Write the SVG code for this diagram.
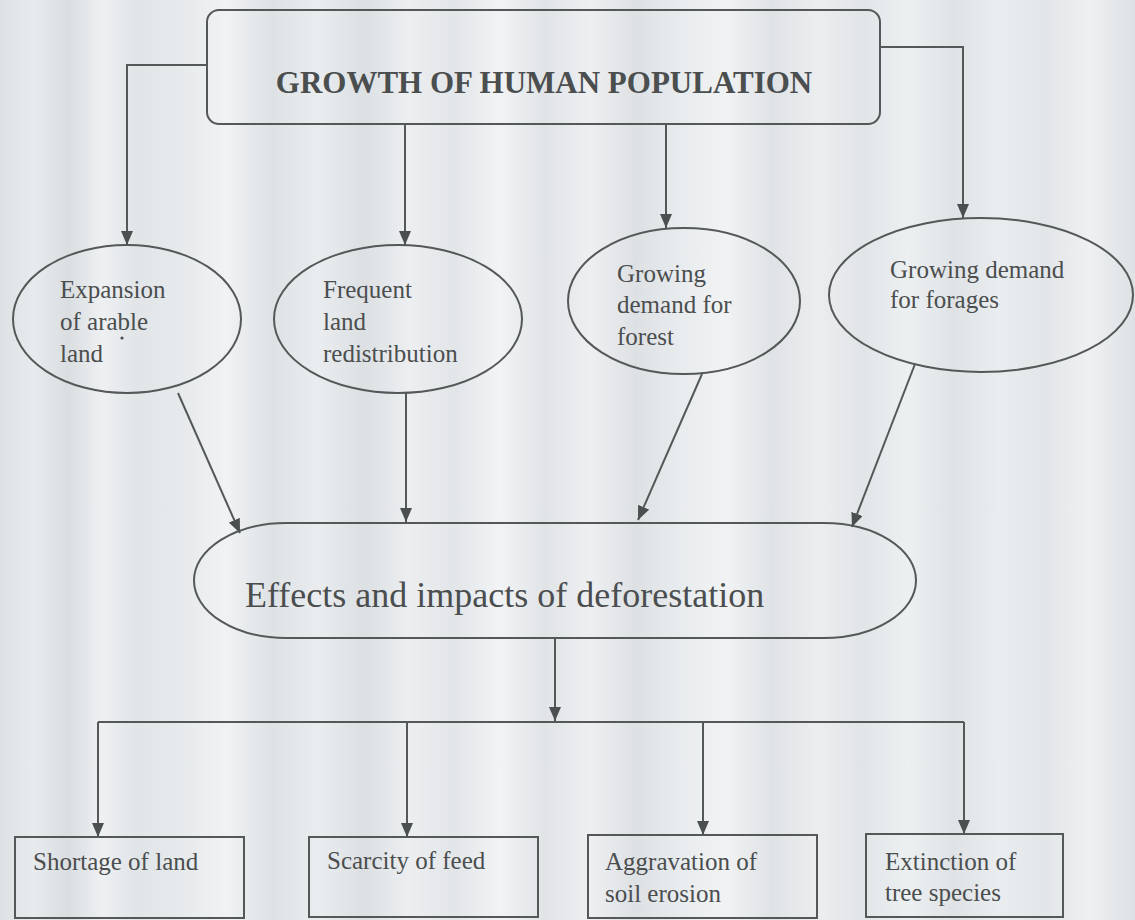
<svg xmlns="http://www.w3.org/2000/svg" width="1135" height="920" viewBox="0 0 1135 920">
  <defs>
    <!-- streaky paper background -->
    <linearGradient id="paper" gradientUnits="userSpaceOnUse" x1="0" y1="0" x2="1135" y2="0">
      <stop offset="0" stop-color="#dde1e4"/>
      <stop offset="0.03" stop-color="#e8ebed"/>
      <stop offset="0.06" stop-color="#dadee1"/>
      <stop offset="0.09" stop-color="#eef0f2"/>
      <stop offset="0.12" stop-color="#e1e5e8"/>
      <stop offset="0.16" stop-color="#e7eaec"/>
      <stop offset="0.2" stop-color="#f0f2f3"/>
      <stop offset="0.24" stop-color="#dee2e5"/>
      <stop offset="0.28" stop-color="#eaedef"/>
      <stop offset="0.32" stop-color="#dce0e3"/>
      <stop offset="0.36" stop-color="#eceef0"/>
      <stop offset="0.4" stop-color="#e3e6e9"/>
      <stop offset="0.44" stop-color="#f1f3f4"/>
      <stop offset="0.48" stop-color="#e1e4e7"/>
      <stop offset="0.52" stop-color="#edeff1"/>
      <stop offset="0.56" stop-color="#dee1e4"/>
      <stop offset="0.6" stop-color="#e9ecee"/>
      <stop offset="0.64" stop-color="#f0f2f3"/>
      <stop offset="0.68" stop-color="#e0e3e6"/>
      <stop offset="0.72" stop-color="#ebedef"/>
      <stop offset="0.76" stop-color="#e2e5e8"/>
      <stop offset="0.8" stop-color="#edf0f1"/>
      <stop offset="0.84" stop-color="#dfe3e6"/>
      <stop offset="0.88" stop-color="#eaedef"/>
      <stop offset="0.92" stop-color="#e3e6e9"/>
      <stop offset="0.96" stop-color="#eef0f1"/>
      <stop offset="1" stop-color="#dee2e5"/>
    </linearGradient>
    <marker id="arrow" viewBox="0 0 14 12" refX="14" refY="6" markerWidth="14" markerHeight="12" markerUnits="userSpaceOnUse" orient="auto">
      <path d="M0,0 L14,6 L0,12 z" fill="#4a4f50"/>
    </marker>
  </defs>
  <style>
    .shape { fill: none; stroke: #535858; stroke-width: 2; }
    .link { fill: none; stroke: #535858; stroke-width: 2; }
    .lbl { font-family: "Liberation Serif", "Times New Roman", serif; fill: #4b4e4f; font-size: 25px; }
    .title { font-family: "Liberation Serif", "Times New Roman", serif; fill: #4b4e4f; font-size: 31px; font-weight: bold; }
    .big { font-family: "Liberation Serif", "Times New Roman", serif; fill: #4b4e4f; font-size: 36px; }
  </style>

  <rect x="0" y="0" width="1135" height="920" fill="url(#paper)"/>

  <!-- root -->
  <g id="growth">
    <rect class="shape" x="207" y="10" width="673" height="114" rx="12" ry="12"/>
    <text class="title" x="544" y="93" text-anchor="middle">GROWTH OF HUMAN POPULATION</text>
  </g>

  <!-- drivers -->
  <g id="expansion">
    <ellipse class="shape" cx="127" cy="319" rx="114" ry="74"/>
    <text class="lbl" x="60" y="298">Expansion</text>
    <text class="lbl" x="60" y="330">of arable</text>
    <text class="lbl" x="60" y="362">land</text>
    <circle cx="122" cy="338" r="1.6" fill="#4b4e4f"/>
  </g>
  <g id="redistribution">
    <ellipse class="shape" cx="398" cy="319" rx="124" ry="74"/>
    <text class="lbl" x="323" y="298">Frequent</text>
    <text class="lbl" x="323" y="330">land</text>
    <text class="lbl" x="323" y="362">redistribution</text>
  </g>
  <g id="forest-demand">
    <ellipse class="shape" cx="684" cy="301" rx="116" ry="73"/>
    <text class="lbl" x="617" y="282">Growing</text>
    <text class="lbl" x="617" y="313">demand for</text>
    <text class="lbl" x="617" y="345">forest</text>
  </g>
  <g id="forage-demand">
    <ellipse class="shape" cx="981" cy="295" rx="152" ry="77"/>
    <text class="lbl" x="890" y="278">Growing demand</text>
    <text class="lbl" x="890" y="308">for forages</text>
  </g>

  <!-- central effect -->
  <g id="effects">
    <rect class="shape" x="194" y="523" width="722" height="115" rx="92" ry="57.5"/>
    <text class="big" x="245" y="607">Effects and impacts of deforestation</text>
  </g>

  <!-- outcomes -->
  <g id="land-shortage">
    <rect class="shape" x="15" y="837" width="229" height="81"/>
    <text class="lbl" x="33" y="870">Shortage of land</text>
  </g>
  <g id="feed-scarcity">
    <rect class="shape" x="309" y="837" width="229" height="80"/>
    <text class="lbl" x="327" y="869">Scarcity of feed</text>
  </g>
  <g id="soil-erosion">
    <rect class="shape" x="588" y="835" width="229" height="83"/>
    <text class="lbl" x="605" y="870">Aggravation of</text>
    <text class="lbl" x="605" y="902">soil erosion</text>
  </g>
  <g id="tree-extinction">
    <rect class="shape" x="866" y="834" width="197" height="83"/>
    <text class="lbl" x="885" y="870">Extinction of</text>
    <text class="lbl" x="885" y="901">tree species</text>
  </g>

  <!-- connectors -->
  <g id="connectors">
    <path class="link" d="M207,65 H127 V245" marker-end="url(#arrow)"/>
    <path class="link" d="M405,124 V245" marker-end="url(#arrow)"/>
    <path class="link" d="M666,124 V228" marker-end="url(#arrow)"/>
    <path class="link" d="M880,47 H963 V218" marker-end="url(#arrow)"/>

    <path class="link" d="M178,393 L240,533" marker-end="url(#arrow)"/>
    <path class="link" d="M406,393 V522" marker-end="url(#arrow)"/>
    <path class="link" d="M702,374 L638,520" marker-end="url(#arrow)"/>
    <path class="link" d="M915,364 L852,527" marker-end="url(#arrow)"/>

    <path class="link" d="M555,638 V721" marker-end="url(#arrow)"/>
    <path class="link" d="M98,722 H964"/>
    <path class="link" d="M98,722 V837" marker-end="url(#arrow)"/>
    <path class="link" d="M407,722 V837" marker-end="url(#arrow)"/>
    <path class="link" d="M703,722 V835" marker-end="url(#arrow)"/>
    <path class="link" d="M964,722 V834" marker-end="url(#arrow)"/>
  </g>
</svg>
